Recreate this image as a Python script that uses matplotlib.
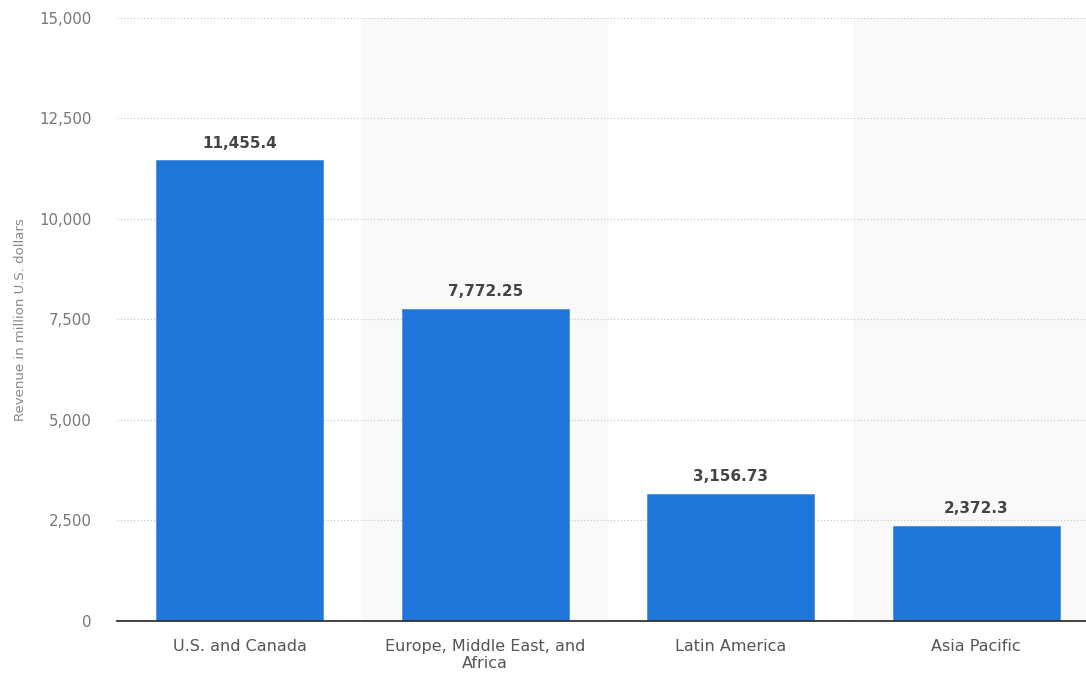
import matplotlib.pyplot as plt
from matplotlib.ticker import FuncFormatter

regions = ["U.S. and Canada", "Europe, Middle East, and\nAfrica", "Latin America", "Asia Pacific"]
revenue = [11455.4, 7772.25, 3156.73, 2372.3]
value_labels = ["11,455.4", "7,772.25", "3,156.73", "2,372.3"]
y_ticks = [0, 2500, 5000, 7500, 10000, 12500, 15000]

plt.rcParams['font.family'] = ['DejaVu Sans']

fig = plt.figure(figsize=(10.86, 6.73), dpi=100)
ax = fig.add_axes([0.1077, 0.0773, 0.8923, 0.896])

# alternating light bands behind every second category
for i in range(len(regions)):
    if i % 2 == 1:
        ax.axvspan(i - 0.5, i + 0.5, color="#f9f9f9", zorder=0, lw=0)

x = range(len(regions))
bars = ax.bar(x, revenue, width=0.68, color="#1f76d8", edgecolor="#4a93e6", linewidth=0.6, zorder=3)

for b, lab in zip(bars, value_labels):
    ax.annotate(lab, (b.get_x() + b.get_width() / 2, b.get_height()),
                xytext=(0, 7), textcoords="offset points", ha="center", va="bottom",
                fontsize=11, fontweight="bold", color="#444444", zorder=4)

ax.set_xlim(-0.5, 3.447)
ax.set_ylim(0, 15000)
ax.set_yticks(y_ticks)
ax.yaxis.set_major_formatter(FuncFormatter(lambda v, p: f"{int(v):,}"))
ax.set_xticks(list(x))
ax.set_xticklabels(regions, fontsize=11.5, color="#555555", linespacing=1.15)
ax.tick_params(axis="y", labelsize=10.8, labelcolor="#777777", length=0, pad=18)
ax.tick_params(axis="x", length=0, pad=13)

ax.grid(axis="y", linestyle=(0, (1, 2)), color="#c4c4c4", linewidth=0.8, zorder=1)
for s in ["top", "right", "left"]:
    ax.spines[s].set_visible(False)
ax.spines["bottom"].set_color("#333333")
ax.spines["bottom"].set_linewidth(1.3)
ax.spines["bottom"].set_zorder(5)

ax.set_ylabel("Revenue in million U.S. dollars", fontsize=9.5, color="#888888")
ax.yaxis.set_label_coords(-0.093, 0.5)

fig.savefig("out.png", dpi=100)
